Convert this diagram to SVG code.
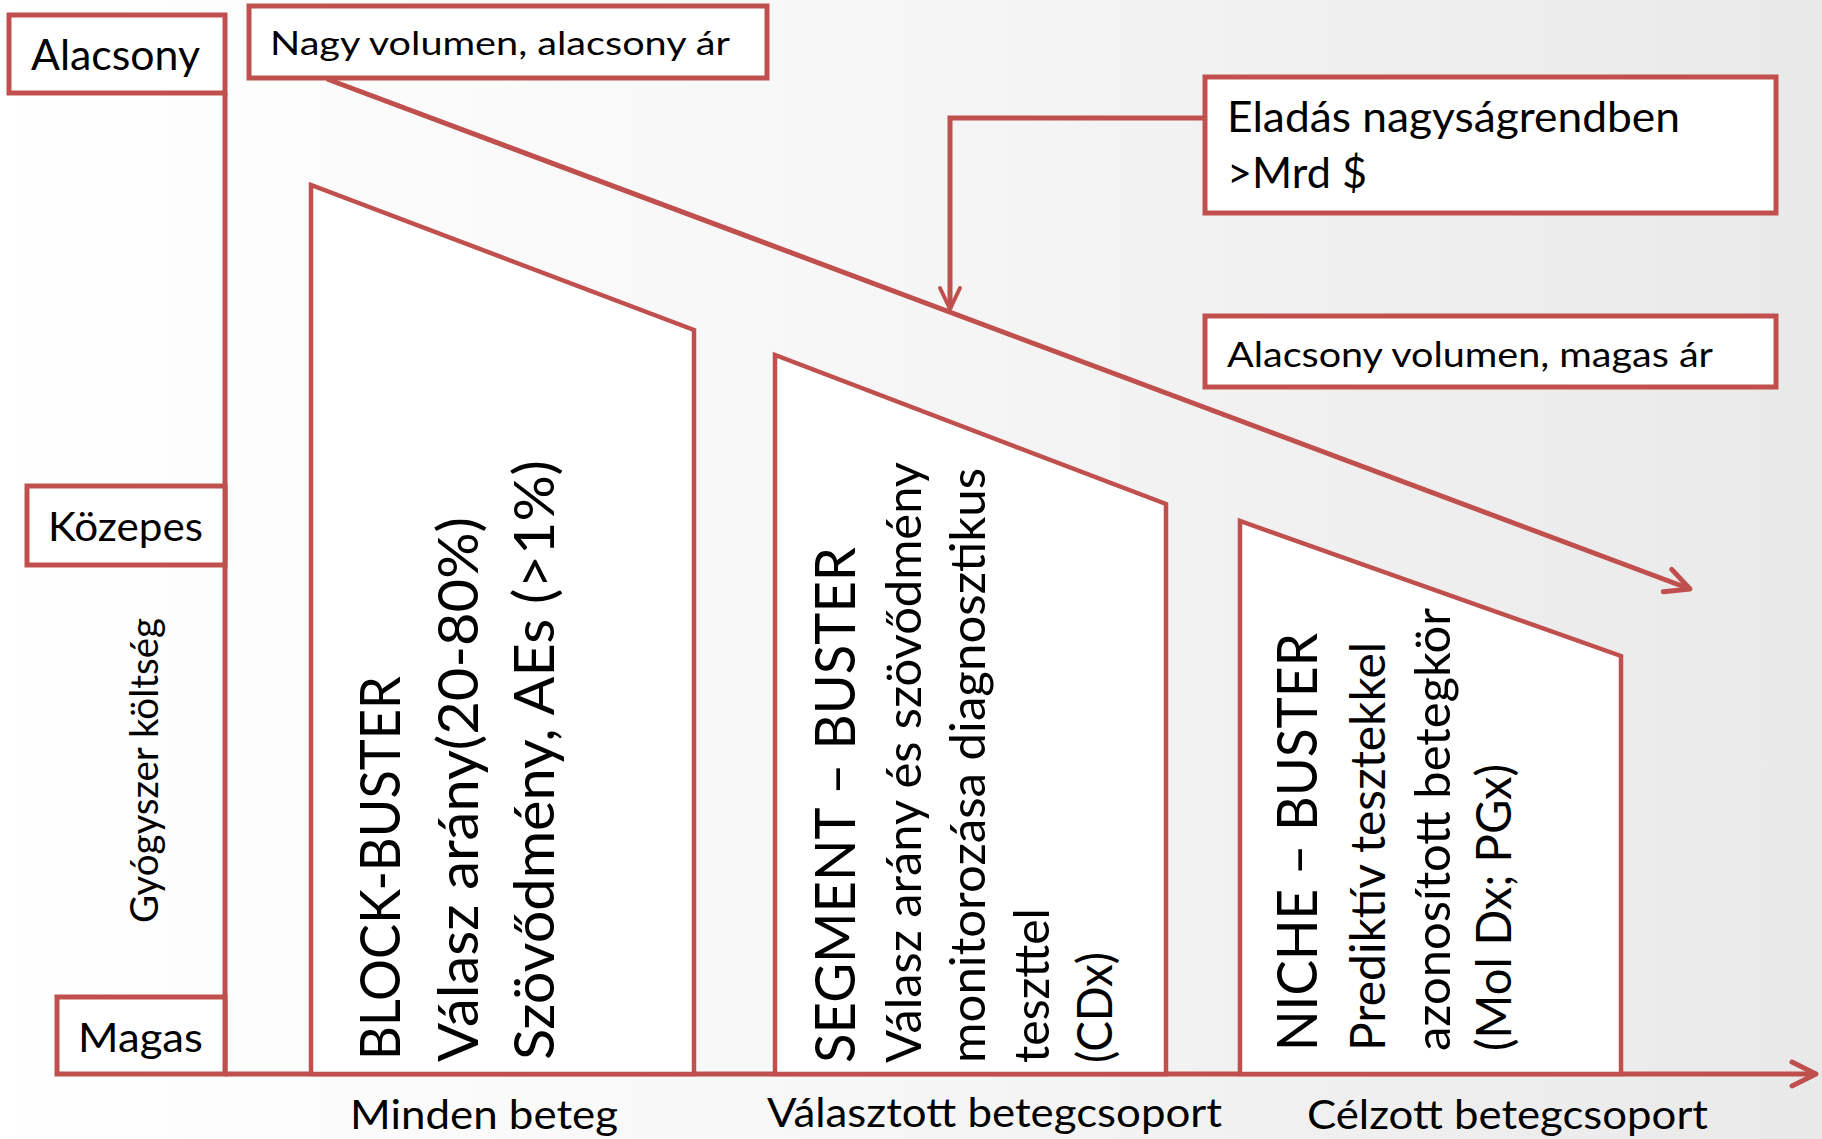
<svg xmlns="http://www.w3.org/2000/svg" width="1822" height="1139" viewBox="0 0 1822 1139">
<defs>
<linearGradient id="bg" x1="0" y1="0" x2="1" y2="0">
<stop offset="0" stop-color="#ffffff"/>
<stop offset="0.45" stop-color="#f7f7f7"/>
<stop offset="1" stop-color="#e9e9e9"/>
</linearGradient>
<marker id="arr" markerUnits="userSpaceOnUse" markerWidth="40" markerHeight="40" viewBox="-30 -20 40 40" refX="0" refY="0" orient="auto">
<path d="M -24 -12 L 0 0 L -24 12" fill="none" stroke="#C0504D" stroke-width="5" stroke-linecap="round" stroke-linejoin="round"/>
</marker>
<marker id="arrs" markerUnits="userSpaceOnUse" markerWidth="40" markerHeight="40" viewBox="-30 -20 40 40" refX="0" refY="0" orient="auto">
<path d="M -21 -10 L 0 0 L -21 10" fill="none" stroke="#C0504D" stroke-width="4" stroke-linecap="round" stroke-linejoin="round"/>
</marker>
</defs>
<style>
.box{fill:#ffffff;stroke:#C0504D;stroke-width:5}
.trap{fill:#ffffff;stroke:#C0504D;stroke-width:4.5;stroke-linejoin:miter}
.ln{fill:none;stroke:#C0504D;stroke-width:5}
.t{font-family:Lato,"Liberation Sans",sans-serif;fill:#000000}
</style>
<rect x="0" y="0" width="1822" height="1139" fill="url(#bg)"/>

<g id="connectors">
<line class="ln" x1="225" y1="93" x2="225" y2="1074"/>
<line class="ln" x1="225" y1="1074" x2="1816" y2="1074" marker-end="url(#arr)"/>
<line class="ln" x1="327" y1="79" x2="1690" y2="589" marker-end="url(#arr)"/>
<polyline class="ln" points="1205,118 950,118 950,309" stroke-width="4" marker-end="url(#arrs)"/>
</g>

<g id="trap-block">
<polygon class="trap" points="311,1074 311,185 694,330 694,1074"/>
<text class="t" font-size="56" transform="translate(400,1060) rotate(-90)" textLength="384" lengthAdjust="spacingAndGlyphs">BLOCK-BUSTER</text>
<text class="t" font-size="56" transform="translate(478,1062) rotate(-90)" textLength="545" lengthAdjust="spacingAndGlyphs">Válasz arány(20-80%)</text>
<text class="t" font-size="56" transform="translate(554,1060) rotate(-90)" textLength="600" lengthAdjust="spacingAndGlyphs">Szövődmény, AEs (&gt;1%)</text>
</g>

<g id="trap-segment">
<polygon class="trap" points="775,1074 775,355 1166,504 1166,1074"/>
<text class="t" font-size="56" transform="translate(855,1063) rotate(-90)" textLength="516" lengthAdjust="spacingAndGlyphs">SEGMENT – BUSTER</text>
<text class="t" font-size="48" transform="translate(921,1063) rotate(-90)" textLength="601" lengthAdjust="spacingAndGlyphs">Válasz arány és szövődmény</text>
<text class="t" font-size="48" transform="translate(985,1063) rotate(-90)" textLength="595" lengthAdjust="spacingAndGlyphs">monitorozása diagnosztikus</text>
<text class="t" font-size="48" transform="translate(1049,1063) rotate(-90)" textLength="155" lengthAdjust="spacingAndGlyphs">teszttel</text>
<text class="t" font-size="48" transform="translate(1112,1063) rotate(-90)" textLength="111" lengthAdjust="spacingAndGlyphs">(CDx)</text>
</g>

<g id="trap-niche">
<polygon class="trap" points="1240,1074 1240,521 1621,656 1621,1074"/>
<text class="t" font-size="56" transform="translate(1317,1051) rotate(-90)" textLength="418" lengthAdjust="spacingAndGlyphs">NICHE – BUSTER</text>
<text class="t" font-size="48" transform="translate(1385,1051) rotate(-90)" textLength="409" lengthAdjust="spacingAndGlyphs">Prediktív tesztekkel</text>
<text class="t" font-size="48" transform="translate(1450,1051) rotate(-90)" textLength="443" lengthAdjust="spacingAndGlyphs">azonosított betegkör</text>
<text class="t" font-size="48" transform="translate(1511,1051) rotate(-90)" textLength="287" lengthAdjust="spacingAndGlyphs">(Mol Dx; PGx)</text>
</g>

<g id="box-alacsony">
<rect class="box" x="9" y="15" width="216" height="78"/>
<text class="t" font-size="42" x="31" y="70" textLength="169" lengthAdjust="spacingAndGlyphs">Alacsony</text>
</g>

<g id="box-nagy">
<rect class="box" x="249" y="6" width="518" height="72"/>
<text class="t" font-size="33" x="270" y="55" textLength="460" lengthAdjust="spacingAndGlyphs">Nagy volumen, alacsony ár</text>
</g>

<g id="box-kozepes">
<rect class="box" x="27" y="486" width="198" height="79"/>
<text class="t" font-size="41" x="48" y="541" textLength="155" lengthAdjust="spacingAndGlyphs">Közepes</text>
</g>

<g id="box-magas">
<rect class="box" x="57" y="997" width="168" height="77"/>
<text class="t" font-size="41" x="78" y="1052" textLength="125" lengthAdjust="spacingAndGlyphs">Magas</text>
</g>

<g id="label-gyogyszer">
<text class="t" font-size="38" transform="translate(158,923) rotate(-90)" textLength="305" lengthAdjust="spacingAndGlyphs">Gyógyszer költség</text>
</g>

<g id="box-eladas">
<rect class="box" x="1205" y="77" width="571" height="136"/>
<text class="t" font-size="42" x="1227" y="132" textLength="453" lengthAdjust="spacingAndGlyphs">Eladás nagyságrendben</text>
<text class="t" font-size="42" x="1227" y="188" textLength="140" lengthAdjust="spacingAndGlyphs">&gt;Mrd $</text>
</g>

<g id="box-alacsony-volumen">
<rect class="box" x="1205" y="316" width="571" height="71"/>
<text class="t" font-size="35" x="1227" y="367" textLength="486" lengthAdjust="spacingAndGlyphs">Alacsony volumen, magas ár</text>
</g>

<g id="label-minden">
<text class="t" font-size="40" x="350" y="1129" textLength="268" lengthAdjust="spacingAndGlyphs">Minden beteg</text>
</g>
<g id="label-valasztott">
<text class="t" font-size="40" x="767" y="1127" textLength="455" lengthAdjust="spacingAndGlyphs">Választott betegcsoport</text>
</g>
<g id="label-celzott">
<text class="t" font-size="40" x="1307" y="1129" textLength="401" lengthAdjust="spacingAndGlyphs">Célzott betegcsoport</text>
</g>
</svg>
